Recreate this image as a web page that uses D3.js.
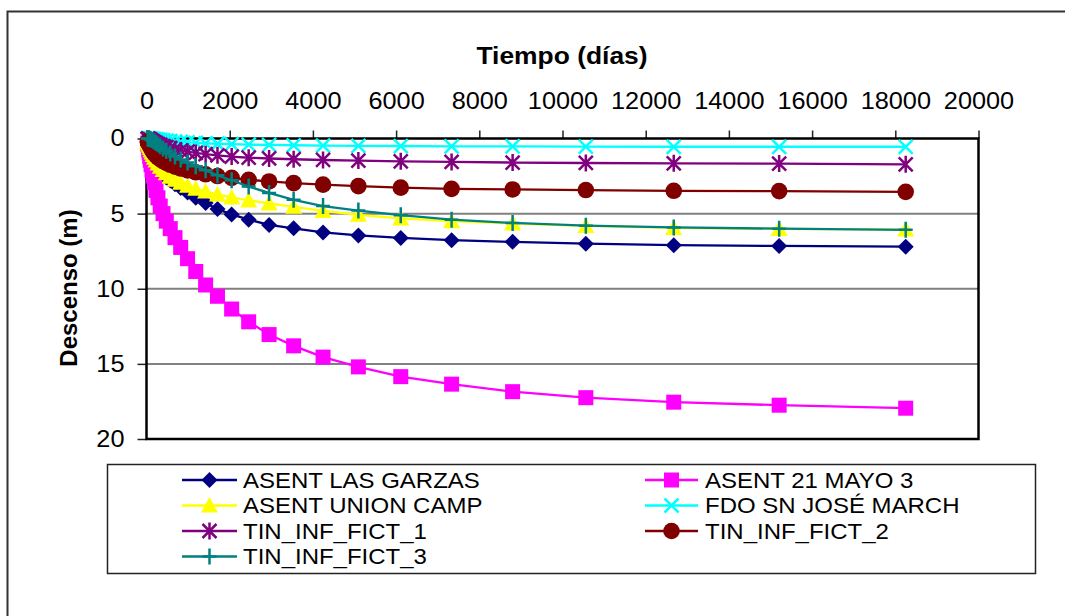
<!DOCTYPE html>
<html><head><meta charset="utf-8">
<script src="https://cdn.jsdelivr.net/npm/d3@7"></script>
<style>body{margin:0;background:#fff}svg{display:block;font-family:"Liberation Sans",Arial,sans-serif}</style>
</head><body><svg id="c" width="1065" height="616"></svg>
<script>
// ---- data ----
const time = [31, 37, 44, 53, 64, 77, 92, 110, 133, 159, 191, 229, 275, 330, 397, 476, 571, 685, 822, 987, 1184, 1421, 1706, 2047, 2456, 2947, 3537, 4244, 5093, 6112, 7334, 8801, 10561, 12674, 15208, 18250];
const seriesNames = ["ASENT LAS GARZAS", "ASENT 21 MAYO 3", "ASENT UNION CAMP", "FDO SN JOSÉ MARCH", "TIN_INF_FICT_1", "TIN_INF_FICT_2", "TIN_INF_FICT_3"];
const asentLasGarzas = [0.1, 0.13, 0.17, 0.21, 0.25, 0.35, 0.5, 0.7, 0.9, 1.1, 1.35, 1.6, 1.85, 2.1, 2.35, 2.6, 2.8, 3.05, 3.3, 3.6, 3.95, 4.3, 4.7, 5.05, 5.4, 5.75, 5.98, 6.25, 6.45, 6.62, 6.77, 6.88, 7.0, 7.1, 7.15, 7.2];
const asent21Mayo3 = [0.3, 0.4, 0.55, 0.75, 0.95, 1.2, 1.45, 1.75, 2.1, 2.5, 2.95, 3.45, 3.95, 4.5, 5.0, 5.5, 6.0, 6.6, 7.25, 8.0, 8.85, 9.75, 10.5, 11.35, 12.2, 13.05, 13.8, 14.55, 15.2, 15.85, 16.35, 16.85, 17.25, 17.55, 17.75, 17.95];
const asentUnionCamp = [0.15, 0.2, 0.26, 0.33, 0.42, 0.52, 0.64, 0.78, 0.93, 1.1, 1.28, 1.47, 1.67, 1.88, 2.1, 2.32, 2.55, 2.75, 2.95, 3.15, 3.35, 3.52, 3.72, 3.92, 4.12, 4.32, 4.55, 4.82, 5.08, 5.32, 5.5, 5.66, 5.82, 5.95, 6.02, 6.05];
const fdoSnJoseMarch = [0, 0, 0, 0.01, 0.01, 0.01, 0.02, 0.02, 0.03, 0.04, 0.05, 0.06, 0.08, 0.1, 0.12, 0.14, 0.17, 0.2, 0.23, 0.26, 0.29, 0.32, 0.35, 0.38, 0.41, 0.43, 0.45, 0.47, 0.49, 0.5, 0.52, 0.53, 0.54, 0.55, 0.55, 0.55];
const tinInfFict1 = [0.02, 0.03, 0.04, 0.05, 0.06, 0.08, 0.1, 0.13, 0.17, 0.21, 0.26, 0.31, 0.37, 0.43, 0.5, 0.57, 0.64, 0.72, 0.8, 0.88, 0.96, 1.04, 1.12, 1.2, 1.28, 1.33, 1.38, 1.43, 1.47, 1.52, 1.56, 1.6, 1.63, 1.65, 1.67, 1.72];
const tinInfFict2 = [0.2, 0.24, 0.28, 0.33, 0.38, 0.45, 0.53, 0.64, 0.76, 0.88, 1.0, 1.12, 1.25, 1.37, 1.5, 1.62, 1.75, 1.87, 2.0, 2.12, 2.25, 2.38, 2.5, 2.62, 2.75, 2.86, 2.97, 3.07, 3.17, 3.27, 3.35, 3.39, 3.43, 3.48, 3.5, 3.55];
const tinInfFict3 = [0, 0, 0.01, 0.01, 0.01, 0.02, 0.04, 0.06, 0.1, 0.15, 0.22, 0.3, 0.4, 0.52, 0.66, 0.82, 1.0, 1.2, 1.4, 1.6, 1.85, 2.12, 2.45, 2.78, 3.2, 3.62, 4.08, 4.5, 4.8, 5.1, 5.4, 5.62, 5.8, 5.92, 6.0, 6.08];
const xTicks = [0, 2000, 4000, 6000, 8000, 10000, 12000, 14000, 16000, 18000, 20000];
const yTicks = [0, 5, 10, 15, 20];
const yGrid = [5, 10, 15];
const xTitle = "Tiempo (días)";
const yTitle = "Descenso (m)";

// ---- styles ----
const seriesValues = [asentLasGarzas, asent21Mayo3, asentUnionCamp, fdoSnJoseMarch, tinInfFict1, tinInfFict2, tinInfFict3];
const colors = ["#000080", "#FF00FF", "#FFFF00", "#00FFFF", "#800080", "#800000", "#008080"];
const markers = ["diamond", "square", "triangle", "x", "asterisk", "circle", "plus"];

const svg = d3.select("#c");
const STRETCH = 1.1;
function stretch(sel, k) {
  sel.each(function () {
    const l = this.getComputedTextLength();
    this.setAttribute("textLength", l * k);
    this.setAttribute("lengthAdjust", "spacingAndGlyphs");
  });
}

svg.append("rect").attr("width", 1065).attr("height", 616).attr("fill", "#fff");
svg.append("rect").attr("x", 7.5).attr("y", 11.5).attr("width", 1200).attr("height", 800)
  .attr("fill", "none").attr("stroke", "#333").attr("stroke-width", 2);

const x = d3.scaleLinear().domain([0, 20000]).range([146.5, 978.5]);
const y = d3.scaleLinear().domain([0, 20]).range([138.5, 439]);

// grid
svg.append("g").selectAll("line").data(yGrid).join("line")
  .attr("x1", x(0)).attr("x2", x(20000)).attr("y1", d => y(d)).attr("y2", d => y(d))
  .attr("stroke", "#808080").attr("stroke-width", 2);

// axes
const gx = svg.append("g").attr("transform", `translate(0,${y(0)})`)
  .call(d3.axisTop(x).tickValues(xTicks).tickSize(8).tickPadding(22).tickFormat(d3.format("d")));
const gy = svg.append("g").attr("transform", `translate(${x(0)},0)`)
  .call(d3.axisLeft(y).tickValues(yTicks).tickSize(9).tickPadding(13).tickFormat(d3.format("d")));
[gx, gy].forEach(g => {
  g.select(".domain").remove();
  g.selectAll(".tick line").attr("stroke", "#222").attr("stroke-width", 1.5);
  g.selectAll(".tick text").attr("font-size", 23).attr("fill", "#000")
    .attr("font-family", "'Liberation Sans', Arial, sans-serif");
});
gx.selectAll(".tick text").call(stretch, STRETCH);
gy.selectAll(".tick text").call(stretch, STRETCH);

// plot border
svg.append("rect").attr("x", x(0)).attr("y", y(0)).attr("width", x(20000) - x(0)).attr("height", y(20) - y(0))
  .attr("fill", "none").attr("stroke", "#000").attr("stroke-width", 2.5);

// titles
svg.append("text").attr("x", 562).attr("y", 64).attr("text-anchor", "middle")
  .attr("font-size", 24).attr("font-weight", "bold").text(xTitle).call(stretch, STRETCH);
svg.append("text").attr("transform", "translate(77,288) rotate(-90)").attr("text-anchor", "middle")
  .attr("font-size", 24).attr("font-weight", "bold").text(yTitle);

function drawMarker(g, type, color) {
  if (type === "diamond") g.append("path").attr("d", "M0,-8L8,0L0,8L-8,0Z").attr("fill", color);
  else if (type === "square") g.append("rect").attr("x", -7.5).attr("y", -7.5).attr("width", 15).attr("height", 15).attr("fill", color);
  else if (type === "triangle") g.append("path").attr("d", "M0,-8.5L8.5,7L-8.5,7Z").attr("fill", color);
  else if (type === "circle") g.append("circle").attr("r", 8.3).attr("fill", color);
  else {
    let d = "";
    if (type === "x") d = "M-7,-7L7,7M-7,7L7,-7";
    if (type === "asterisk") d = "M-7,-7L7,7M-7,7L7,-7M0,-8.5L0,8.5";
    if (type === "plus") d = "M0,-8L0,8M-7,0L7,0";
    g.append("path").attr("d", d).attr("stroke", color).attr("stroke-width", 2.5).attr("fill", "none");
  }
}

const line = d3.line().x(d => x(d.t)).y(d => y(d.v));
seriesValues.forEach((vals, i) => {
  const pts = time.map((t, j) => ({ t, v: vals[j] }));
  const g = svg.append("g");
  g.append("path").datum(pts).attr("d", line).attr("fill", "none")
    .attr("stroke", colors[i]).attr("stroke-width", 2.3);
  pts.forEach(p => {
    const m = g.append("g").attr("transform", `translate(${x(p.t)},${y(p.v)})`);
    drawMarker(m, markers[i], colors[i]);
  });
});

// legend
svg.append("rect").attr("x", 107.5).attr("y", 464.5).attr("width", 928).attr("height", 109)
  .attr("fill", "none").attr("stroke", "#222").attr("stroke-width", 1.5);
const colX = [[182, 237, 243], [645, 698, 705]];
const rowY = [480, 505.5, 531, 556.5];
seriesNames.forEach((name, i) => {
  const c = colX[i % 2], r = rowY[Math.floor(i / 2)];
  const g = svg.append("g");
  g.append("line").attr("x1", c[0]).attr("x2", c[1]).attr("y1", r).attr("y2", r)
    .attr("stroke", colors[i]).attr("stroke-width", 2.3);
  const m = g.append("g").attr("transform", `translate(${(c[0] + c[1]) / 2},${r})`);
  drawMarker(m, markers[i], colors[i]);
  g.append("text").attr("x", c[2]).attr("y", r).attr("dy", "0.36em")
    .attr("font-size", 22).text(name).call(stretch, 1.09);
});
</script></body></html>
